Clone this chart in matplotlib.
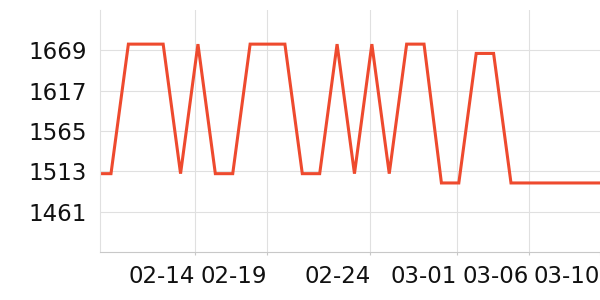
import pandas as pd
from matplotlib import pyplot as plt

# daily readings, first and last ones fall just outside the visible window
start = "2023-02-09 01:00"
values = [1510, 1510, 1677, 1677, 1677, 1510, 1677, 1510, 1510, 1677,
          1677, 1677, 1510, 1510, 1677, 1510, 1677, 1510, 1677, 1677,
          1498, 1498, 1665, 1665, 1498, 1498, 1498, 1498, 1498, 1498, 1498]

y_ticks = [1461, 1513, 1565, 1617, 1669]
y_range = (1409, 1721)

x_tick_times = ["2023-02-14 21:00", "2023-02-19 00:45", "2023-02-24 22:50",
                "2023-03-01 22:50", "2023-03-06 02:10", "2023-03-10 03:50"]
x_tick_labels = ["02-14", "02-19", "02-24", "03-01", "03-06", "03-10"]
x_range = ("2023-02-09 09:50", "2023-03-10 03:50")

grid_color = "#e0e0e0"
line_color = "#ee4a2e"

dates = pd.date_range(start, periods=len(values), freq="D")

fig = plt.figure(figsize=(6, 3), dpi=100)
ax = fig.add_axes([100 / 600, 48 / 300, 500 / 600, 242 / 300])

ax.plot(dates, values, color=line_color, linewidth=2.2, solid_joinstyle="miter")

ax.set_xlim(pd.Timestamp(x_range[0]), pd.Timestamp(x_range[1]))
ax.set_ylim(*y_range)

ax.set_yticks(y_ticks)
ax.set_yticklabels([str(v) for v in y_ticks])
ax.set_xticks(pd.to_datetime(x_tick_times))
ax.set_xticklabels(x_tick_labels)
for lbl in ax.get_xticklabels():
    lbl.set_horizontalalignment("right")

ax.tick_params(axis="y", length=0, pad=9.4, labelsize=16.5, labelcolor="#111111")
ax.tick_params(axis="x", length=2, width=0.8, color="#c8c8c8", pad=7.5,
               labelsize=16.5, labelcolor="#111111")

ax.grid(True, color=grid_color, linewidth=0.8)
ax.xaxis.get_gridlines()[-1].set_visible(False)
ax.set_axisbelow(True)

for side in ["top", "right"]:
    ax.spines[side].set_visible(False)
ax.spines["left"].set_color(grid_color)
ax.spines["left"].set_linewidth(0.8)
ax.spines["bottom"].set_color("#c8c8c8")
ax.spines["bottom"].set_linewidth(0.8)

fig.savefig("out.png", dpi=100)
